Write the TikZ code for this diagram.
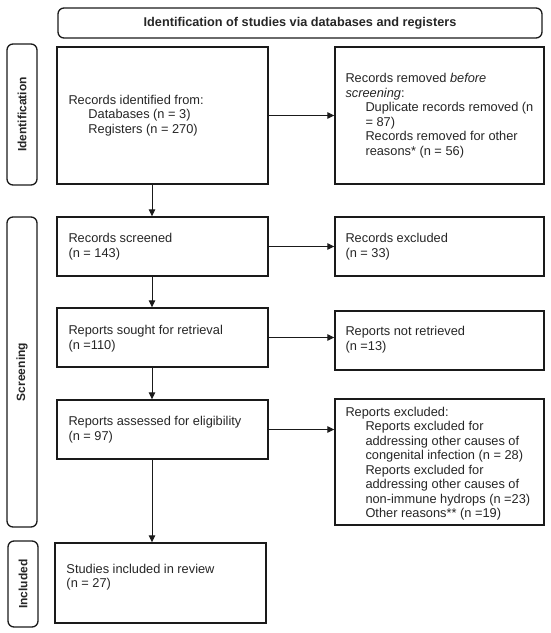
\documentclass[tikz,border=0pt]{standalone}
\usepackage{fontspec}
\setmainfont{Liberation Sans}
\usetikzlibrary{arrows.meta}
\definecolor{linec}{HTML}{1A1A1A}
\definecolor{textc}{HTML}{262626}
\begin{document}
\begin{tikzpicture}[x=1pt,y=-1pt,
  box/.style={draw=linec, line width=1.4pt, inner sep=0pt, fill=white},
  side/.style={draw=linec, line width=1.3pt, rounded corners=6pt, inner sep=0pt, rotate=90,
               font=\fontsize{12}{14}\selectfont\bfseries, text=textc},
  txt/.style={align=left, inner sep=0pt, anchor=west, text=textc,
              font=\fontsize{12.8}{14.5}\selectfont},
  arr/.style={-{Triangle[length=7pt,width=6.5pt]}, line width=0.9pt, draw=linec, fill=linec}]
\useasboundingbox (0,0) rectangle (550,633);

% header
\node[draw=linec, line width=1.3pt, rounded corners=6pt, minimum width=484pt, minimum height=30pt,
      inner sep=0pt, font=\fontsize{12.7}{14.5}\selectfont\bfseries, text=textc]
  (header) at (300,23) {Identification of studies via databases and registers};

% side labels
\node[side, minimum width=141pt, minimum height=30pt] (idlab) at (22,114.5) {Identification};
\node[side, minimum width=310pt, minimum height=30pt] (scrlab) at (22,372) {Screening};
\node[side, minimum width=86pt, minimum height=30pt] (inclab) at (23,584) {Included};

% boxes
\node[box, minimum width=211pt, minimum height=137pt] (ident) at (162.5,115.5) {};
\node[box, minimum width=209pt, minimum height=137pt] (removed) at (439.5,115.5) {};
\node[box, minimum width=211pt, minimum height=59pt] (screened) at (162.5,246.5) {};
\node[box, minimum width=209pt, minimum height=59pt] (excluded) at (439.5,246.5) {};
\node[box, minimum width=211pt, minimum height=59pt] (sought) at (162.5,337.5) {};
\node[box, minimum width=209pt, minimum height=59pt] (notret) at (439.5,340.5) {};
\node[box, minimum width=211pt, minimum height=59pt] (assessed) at (162.5,429.5) {};
\node[box, minimum width=209pt, minimum height=126pt] (repexcl) at (439.5,462) {};
\node[box, minimum width=211pt, minimum height=80pt] (studies) at (160.5,583) {};

% texts
\node[txt] (identt) at ([xshift=12pt]ident.west)
  {Records identified from:\\ \hspace*{20pt}Databases (n = 3)\\ \hspace*{20pt}Registers (n = 270)};
\node[txt] (removedt) at ([xshift=11pt]removed.west)
  {Records removed \textit{before}\\ \textit{screening}:\\
   \hspace*{20pt}Duplicate records removed (n\\ \hspace*{20pt}= 87)\\
   \hspace*{20pt}Records removed for other\\ \hspace*{20pt}reasons* (n = 56)};
\node[txt] (screenedt) at ([xshift=12pt]screened.west) {Records screened\\ (n = 143)};
\node[txt] (excludedt) at ([xshift=11pt]excluded.west) {Records excluded\\ (n = 33)};
\node[txt] (soughtt) at ([xshift=12pt,yshift=-1pt]sought.west) {Reports sought for retrieval\\ (n =110)};
\node[txt] (notrett) at ([xshift=11pt,yshift=1pt]notret.west) {Reports not retrieved\\ (n =13)};
\node[txt] (assessedt) at ([xshift=12pt]assessed.west) {Reports assessed for eligibility\\ (n = 97)};
\begin{scope}
  \clip (335,399) rectangle (544,521);
  \node[txt] (repexclt) at ([xshift=11pt,yshift=-1.5pt]repexcl.west)
    {Reports excluded:\\
     \hspace*{20pt}Reports excluded for\\
     \hspace*{20pt}addressing other causes of\\
     \hspace*{20pt}congenital infection (n = 28)\\
     \hspace*{20pt}Reports excluded for\\
     \hspace*{20pt}addressing other causes of\\
     \hspace*{20pt}non-immune hydrops (n =23)\\
     \hspace*{20pt}Other reasons** (n =19)};
\end{scope}
\node[txt] (studiest) at ([xshift=12pt,yshift=6pt]studies.west) {Studies included in review\\ (n = 27)};

% connectors
\coordinate (ax) at (152,0);
\draw[arr] (ident.south -| ax) -- (screened.north -| ax);
\draw[arr] (screened.south -| ax) -- (sought.north -| ax);
\draw[arr] (sought.south -| ax) -- (assessed.north -| ax);
\draw[arr] (assessed.south -| ax) -- (studies.north -| ax);
\draw[arr] (ident.east) -- (removed.west |- ident.east);
\draw[arr] (screened.east) -- (excluded.west |- screened.east);
\draw[arr] (sought.east) -- (notret.west |- sought.east);
\draw[arr] (assessed.east) -- (repexcl.west |- assessed.east);
\end{tikzpicture}
\end{document}
